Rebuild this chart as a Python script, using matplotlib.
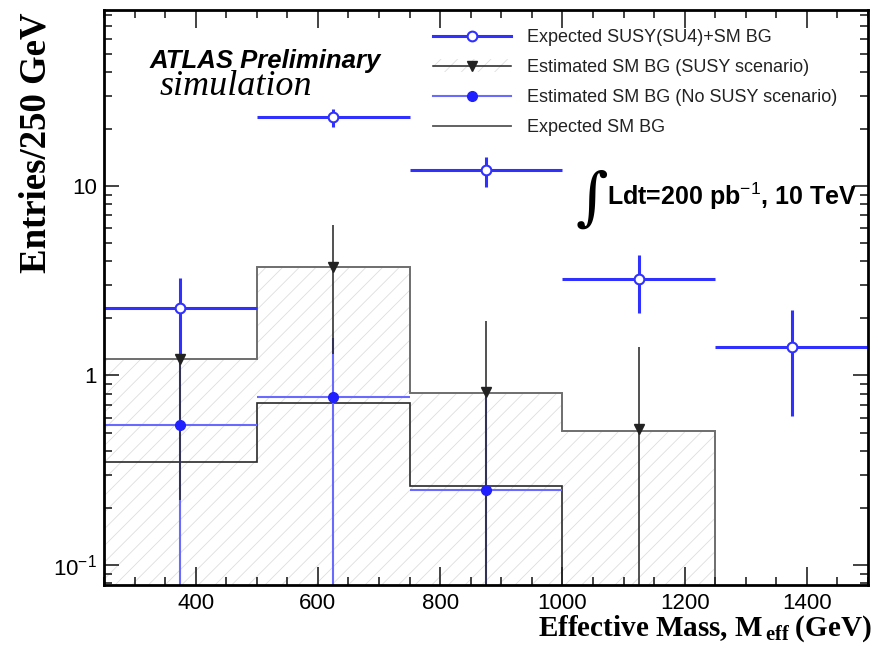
import numpy as np
import matplotlib
matplotlib.use('Agg')
import matplotlib.pyplot as plt
from matplotlib.lines import Line2D
from matplotlib.patches import Patch
from matplotlib.ticker import FixedLocator, FixedFormatter, NullFormatter, LogLocator

plt.rcParams['font.family'] = ['Liberation Sans', 'DejaVu Sans']
plt.rcParams['hatch.linewidth'] = 0.6
plt.rcParams['mathtext.fontset'] = 'custom'
plt.rcParams['mathtext.rm'] = 'Liberation Serif:bold'
plt.rcParams['mathtext.bf'] = 'Liberation Serif:bold'
plt.rcParams['mathtext.sf'] = 'Liberation Sans'

# binning (GeV)
bin_edges = [250, 500, 750, 1000, 1250, 1500]
bin_centres = [375, 625, 875, 1125, 1375]

# Expected SUSY(SU4)+SM BG
susy_val = [2.26, 23.0, 12.1, 3.25, 1.41]
susy_err = [1.0, 2.5, 2.2, 1.1, 0.8]

# Estimated SM BG (SUSY scenario): points + hatched histogram
est_susy_val = [1.22, 3.75, 0.82, 0.52]
est_susy_err = [1.0, 2.45, 1.13, 0.89]
est_susy_hist = [1.22, 3.72, 0.81, 0.51, 0.0]

# Estimated SM BG (No SUSY scenario)
est_nosusy_val = [0.55, 0.77, 0.25]
est_nosusy_err = [0.75, 0.8, 0.55]

# Expected SM BG
sm_hist = [0.35, 0.72, 0.26, 0.0, 0.0]

xticks = [400, 600, 800, 1000, 1200, 1400]
xtick_labels = ['400', '600', '800', '1000', '1200', '1400']
yticks = [0.1, 1, 10]
ytick_labels = ['10$^{\\mathsf{-1}}$', '1', '10']

W, H = 875, 665
def px(x, y):
    return x / W, 1 - y / H

blue = '#3030ff'
lightblue = '#6a6aff'
hatch_col = '#dedede'
floor = 1e-3
half = np.diff(bin_edges) / 2

fig = plt.figure(figsize=(8.75, 6.65), dpi=100)
ax = fig.add_axes([104 / W, 80 / H, 764 / W, 575 / H])
ax.set_yscale('log')

# hatched histogram (estimated SM BG, SUSY scenario)
ax.stairs(np.clip(est_susy_hist, floor, None), bin_edges, baseline=floor, fill=True,
          facecolor='none', edgecolor=hatch_col, hatch='//', lw=0)
ax.stairs(np.clip(est_susy_hist, floor, None), bin_edges, baseline=floor,
          color='#6e6e6e', lw=1.4)
# expected SM BG line
ax.stairs(np.clip(sm_hist, floor, None), bin_edges, baseline=floor,
          color='#2a2a2a', lw=1.2)

n = len(est_nosusy_val)
ax.errorbar(bin_centres[:n], est_nosusy_val, xerr=half[:n], yerr=est_nosusy_err,
            fmt='o', color=lightblue, mfc='#2020ff', mec='#2020ff', ms=7,
            lw=1.5, capsize=0)
n = len(est_susy_val)
ax.errorbar(bin_centres[:n], est_susy_val, yerr=est_susy_err,
            fmt='v', color='#222222', ms=7, lw=1.1, capsize=0)
ax.errorbar(bin_centres, susy_val, xerr=half, yerr=susy_err,
            fmt='o', color=blue, mfc='white', mec=blue, mew=1.5, ms=7,
            lw=2.2, capsize=0)

ax.set_xlim(250, 1500)
ax.set_ylim(0.0784, 84.9)

ax.xaxis.set_major_locator(FixedLocator(xticks))
ax.xaxis.set_major_formatter(FixedFormatter(xtick_labels))
ax.xaxis.set_minor_locator(FixedLocator(np.arange(250, 1501, 50)))
ax.yaxis.set_major_locator(FixedLocator(yticks))
ax.yaxis.set_major_formatter(FixedFormatter(ytick_labels))
ax.yaxis.set_minor_locator(LogLocator(base=10, subs=np.arange(2, 10), numticks=20))
ax.yaxis.set_minor_formatter(NullFormatter())
ax.tick_params(which='both', direction='in', top=True, right=True, labelsize=16,
               width=1.2, color='#222222')
ax.tick_params(axis='x', which='major', length=13, pad=6)
ax.tick_params(axis='x', which='minor', length=6)
ax.tick_params(axis='y', which='major', length=11, pad=5)
ax.tick_params(axis='y', which='minor', length=6)
for s in ax.spines.values():
    s.set_linewidth(2)

handles = [
    Line2D([], [], color=blue, lw=2.2, marker='o', mfc='white', mec=blue, mew=1.5, ms=7),
    (Patch(facecolor='none', edgecolor=hatch_col, hatch='//', lw=0),
     Line2D([], [], color='#222222', lw=1.1, marker='v', ms=7)),
    Line2D([], [], color=lightblue, lw=1.5, marker='o', mfc='#2020ff', mec='#2020ff', ms=7),
    Line2D([], [], color='#555555', lw=1.3),
]
labels = ['Expected SUSY(SU4)+SM BG', 'Estimated SM BG (SUSY scenario)',
          'Estimated SM BG (No SUSY scenario)', 'Expected SM BG']
leg = fig.legend(handles, labels, loc='upper left', bbox_to_anchor=px(433, 29),
                 frameon=False, fontsize=13, handlelength=4.3, handletextpad=0.9,
                 labelspacing=0.72, borderpad=0, borderaxespad=0)
for t in leg.get_texts():
    t.set_color('#222222')

fig.text(*px(150, 68), 'ATLAS Preliminary', fontsize=18.5, fontweight='bold',
         style='italic', va='baseline')
fig.text(*px(160, 95), 'simulation', family='Liberation Serif', style='italic',
         fontsize=26, va='baseline')
fig.text(*px(576, 200), '\u222b', family='DejaVu Serif', fontsize=45, va='center')
fig.text(*px(607, 205), 'Ldt=200 pb$^{\\mathsf{-1}}$, 10 TeV', fontsize=18,
         fontweight='bold', va='baseline')

fig.text(*px(36, 143), 'Entries/250 GeV', rotation=90, family='Liberation Serif',
         fontweight='bold', fontsize=26.5, ha='center', va='center')
fig.text(*px(872, 636), 'Effective Mass, M$_{\\,\\mathrm{eff}}$\u2009(GeV)',
         family='Liberation Serif', fontweight='bold', fontsize=21,
         ha='right', va='baseline')

fig.savefig('out.png', dpi=100)
